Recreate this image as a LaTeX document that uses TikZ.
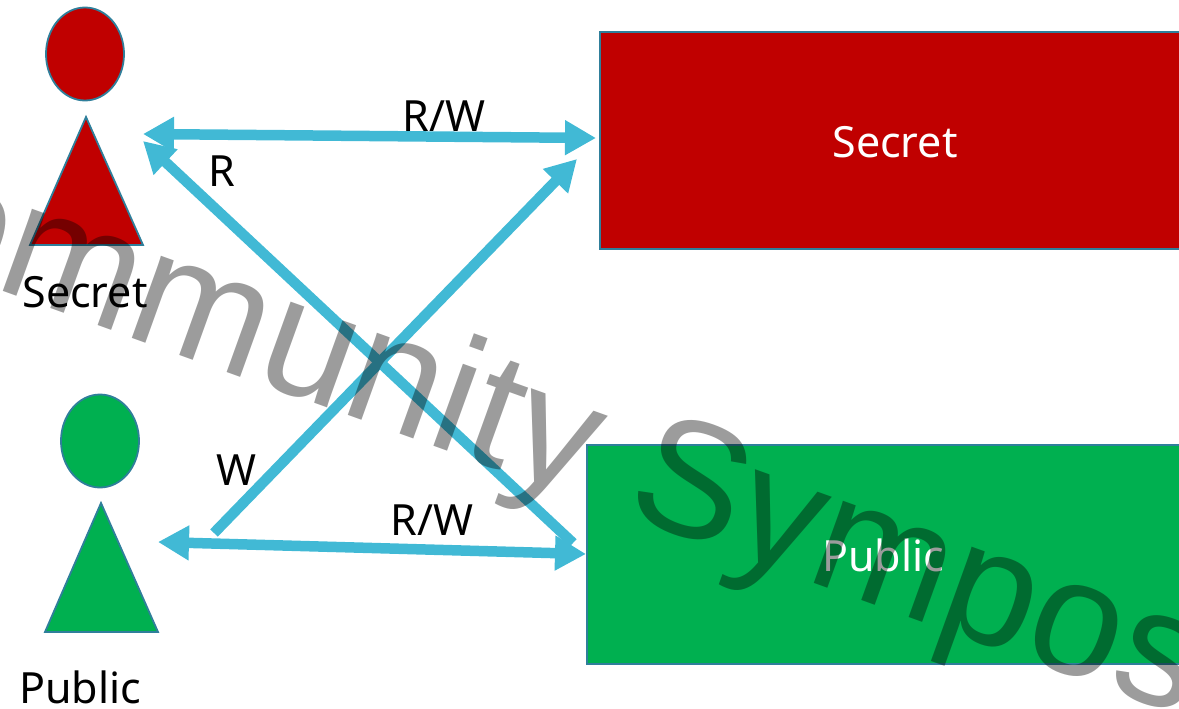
\documentclass[tikz,border=0pt]{standalone}
\usepackage{fontspec}
\setmainfont{Noto Sans}
\newfontfamily\wmfont{Liberation Sans}
\usetikzlibrary{arrows.meta,shapes.geometric}
\definecolor{secretred}{HTML}{C00000}
\definecolor{publicgreen}{HTML}{00B050}
\definecolor{edge}{HTML}{2F7F9B}
\definecolor{flow}{HTML}{41B9D5}
\tikzset{
  x=1pt,y=-1pt,
  outlined/.style={draw=edge,line width=1.8pt},
  head/.style={outlined,ellipse,minimum width=78pt,minimum height=93pt,inner sep=0pt},
  rectbox/.style={outlined,rectangle,inner sep=0pt,anchor=north west,minimum height=217pt,text=white},
  lbl/.style={inner sep=0pt,text=black,font=\fontsize{43}{50}\selectfont},
  biflow/.style={draw=flow,line width=10.5pt,{Triangle[length=31pt,width=33pt]}-{Triangle[length=31pt,width=33pt]}},
  oneflow/.style={draw=flow,line width=10.5pt,-{Triangle[length=31pt,width=33pt]}},
}
\begin{document}
\begin{tikzpicture}
\useasboundingbox (0,0) rectangle (1179,709);
\begin{scope}
\clip (0,0) rectangle (1179,709);
% people
\node[head,fill=secretred] (shead) at (85,54) {};
\draw[outlined,fill=secretred] (86,117) -- (143,245) -- (30,245) -- cycle;
\node[head,fill=publicgreen] (phead) at (100,441) {};
\draw[outlined,fill=publicgreen] (101,503) -- (158,632) -- (45,632) -- cycle;
% objects
\node[rectbox,fill=secretred,minimum width=580pt] (sbox) at (599,31) {};
\node[lbl,text=white] (stext) at (895,142) {Secret};
\node[rectbox,fill=publicgreen,minimum width=593pt,minimum height=219pt] (pbox) at (586,444) {};
\node[lbl,text=white] (ptext) at (883,555) {Public};
% labels
\node[lbl] (suser) at (85,292) {Secret};
\node[lbl] (puser) at (80,687) {Public};
\node[lbl] (rwa) at (444,116) {R/W};
\node[lbl] (rwb) at (432,520) {R/W};
\node[lbl] (rl) at (222,171) {R};
\node[lbl] (wl) at (236,470) {W};
% connector ends
\coordinate (sa) at (143,134);
\coordinate (sb) at (596,138);
\coordinate (ra) at (143,141);
\coordinate (rb) at (573,543);
\coordinate (wa) at (214,533);
\coordinate (wb) at (577,159);
\coordinate (pa) at (158,542);
\coordinate (pb) at (586,554);
\draw[oneflow] (rb) -- (ra);
\draw[oneflow] (wa) -- (wb);
\draw[biflow] (sa) -- (sb);
\draw[biflow] (pa) -- (pb);
% watermark
\node[anchor=base west,inner sep=0pt,rotate=-19.8,text=black,text opacity=0.39,
  font=\wmfont\fontsize{165}{200}\selectfont] (wm) at (-206,216) {Community Symposium};
\end{scope}
\end{tikzpicture}
\end{document}
